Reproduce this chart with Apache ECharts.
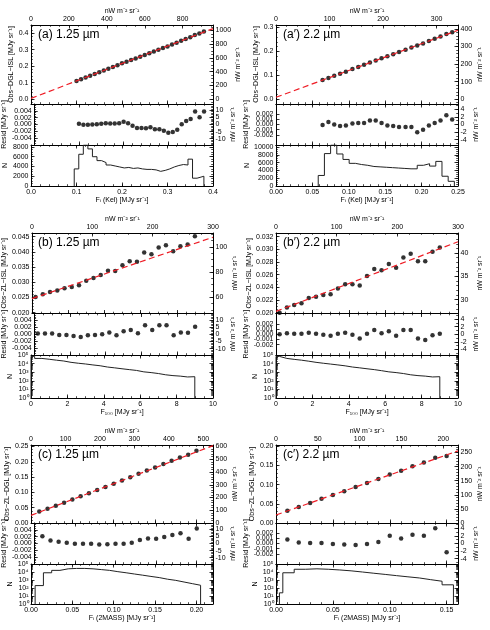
<!DOCTYPE html>
<html>
<head>
<meta charset="utf-8">
<script src="https://cdn.jsdelivr.net/npm/echarts@6/dist/echarts.min.js"></script>
<style>
html, body { margin: 0; background: #fff; }
#chart { width: 490px; height: 630px; }
</style>
</head>
<body>
<div id="chart"></div>
<script>
// ---- (a) 1.25 um, Kelsall ----
const a_x = [0.10,0.11,0.12,0.13,0.14,0.15,0.16,0.17,0.18,0.19,0.20,0.21,0.22,0.23,0.24,0.25,0.26,0.27,0.28,0.29,0.30,0.31,0.32,0.33,0.34,0.35,0.36,0.37,0.38];
const a_y = [0.110,0.121,0.131,0.142,0.152,0.163,0.174,0.184,0.195,0.206,0.217,0.227,0.237,0.247,0.257,0.268,0.279,0.289,0.299,0.310,0.320,0.331,0.342,0.354,0.365,0.376,0.390,0.398,0.411];
const a_res = [0.0002,-0.0001,-0.0001,0.0000,0.0001,0.0002,0.0004,0.0003,0.0003,0.0004,0.0008,0.0004,-0.0004,-0.0010,-0.0010,-0.0011,-0.0008,-0.0014,-0.0014,-0.0018,-0.0024,-0.0022,-0.0015,0.0001,0.0010,0.0016,0.0038,0.0021,0.0038];
const a_fitX = [0, 0.4];
const a_fitY = [0.004, 0.428];
const a_hEdge = [0.095,0.105,0.115,0.125,0.135,0.145,0.155,0.165,0.175,0.185,0.195,0.205,0.215,0.225,0.235,0.245,0.255,0.265,0.275,0.285,0.295,0.305,0.315,0.325,0.335,0.345,0.355,0.365,0.38];
const a_hN = [3500,6500,8400,7600,6000,5200,4800,4300,4100,3900,3700,3800,3600,3700,3500,3400,3400,3300,3000,3200,3500,3900,4200,4400,4300,5500,1600,2000];

// ---- (a') 2.2 um, Kelsall ----
const a2_x = [0.064,0.072,0.080,0.088,0.096,0.105,0.113,0.121,0.129,0.137,0.145,0.153,0.161,0.169,0.178,0.186,0.194,0.202,0.210,0.218,0.226,0.234,0.242];
const a2_y = [0.080,0.089,0.098,0.106,0.115,0.126,0.135,0.144,0.153,0.162,0.171,0.179,0.188,0.197,0.207,0.216,0.224,0.233,0.243,0.253,0.262,0.272,0.280];
const a2_res = [-0.0001,0.0005,0.0000,-0.0003,-0.0002,0.0002,0.0003,0.0003,0.0008,0.0008,0.0003,-0.0002,-0.0003,-0.0005,-0.0005,-0.0005,-0.0015,-0.0010,-0.0002,0.0003,0.0008,0.0018,0.0010];
const a2_fitX = [0, 0.25];
const a2_fitY = [0.008, 0.288];
const a2_hEdge = [0.058,0.0665,0.075,0.0835,0.092,0.1005,0.109,0.1175,0.126,0.1345,0.143,0.1515,0.160,0.1685,0.177,0.1855,0.194,0.2025,0.211,0.2195,0.228,0.2365,0.245];
const a2_hN = [2700,8300,10500,8200,6800,5800,5500,5300,5000,4900,4800,4700,4600,4500,4400,4400,5300,5700,5100,6300,2500,1200];

// ---- (b) 1.25 um, F100 ----
const b_x = [0.2,0.6,1.0,1.4,1.8,2.2,2.6,3.0,3.4,3.8,4.2,4.6,5.0,5.4,5.8,6.2,6.6,7.0,7.4,7.8,8.2,8.6,9.0];
const b_y = [0.0251,0.0260,0.0268,0.0273,0.0280,0.0284,0.0290,0.0305,0.0314,0.0324,0.0338,0.0337,0.0356,0.0369,0.0367,0.0398,0.0392,0.0414,0.0422,0.0402,0.0418,0.0424,0.0451];
const b_res = [0.0002,0.0002,0.0002,-0.0002,-0.0002,-0.0005,-0.0008,-0.0003,-0.0002,0.0000,0.0005,-0.0003,0.0009,0.0012,0.0003,0.0026,0.0012,0.0026,0.0026,-0.0003,0.0005,0.0004,0.0022];
const b_fitX = [0, 10];
const b_fitY = [0.0246, 0.0448];
const b_hEdge = [0,0.2,0.6,1.0,1.4,1.8,2.2,2.6,3.0,3.4,3.8,4.2,4.6,5.0,5.4,5.8,6.2,6.6,7.0,7.4,7.8,8.2,8.6,9.0];
const b_hN = [70000,40000,32000,25000,20000,14000,11000,9000,7000,5600,4000,3200,2500,2000,1600,1100,900,700,500,400,350,280,300];

// ---- (b') 2.2 um, F100 ----
const b2_x = [0.2,0.6,1.0,1.4,1.8,2.2,2.6,3.0,3.4,3.8,4.2,4.6,5.0,5.4,5.8,6.2,6.6,7.0,7.4,7.8,8.2,8.6,9.0];
const b2_y = [0.0200,0.0208,0.0212,0.0215,0.0223,0.0225,0.0228,0.0229,0.0238,0.0245,0.0245,0.0243,0.0258,0.0269,0.0267,0.0277,0.0271,0.0287,0.0293,0.0281,0.0281,0.0296,0.0303];
const b2_res = [0.0000,0.0002,0.0001,0.0001,0.0003,0.0001,-0.0001,-0.0003,0.0001,0.0003,-0.0001,-0.0008,0.0001,0.0008,0.0002,0.0006,-0.0003,0.0008,0.0008,-0.0008,-0.0011,-0.0002,0.0001];
const b2_fitX = [0, 10];
const b2_fitY = [0.0202, 0.0312];
const b2_hEdge = [0,0.2,0.6,1.0,1.4,1.8,2.2,2.6,3.0,3.4,3.8,4.2,4.6,5.0,5.4,5.8,6.2,6.6,7.0,7.4,7.8,8.2,8.6,9.0];
const b2_hN = [68000,40000,31000,25000,19000,14000,11000,8800,7000,5500,4000,3200,2500,2000,1500,1100,900,700,500,400,350,280,300];

// ---- (c) 1.25 um, 2MASS ----
const c_x = [0.01,0.02,0.03,0.04,0.05,0.06,0.07,0.08,0.09,0.10,0.11,0.12,0.13,0.14,0.15,0.16,0.17,0.18,0.19,0.20];
const c_y = [0.0375,0.0466,0.0566,0.0666,0.0767,0.0871,0.0974,0.1076,0.1180,0.1285,0.1389,0.1495,0.1607,0.1715,0.1818,0.1927,0.2036,0.2145,0.2232,0.2366];
const c_res = [0.0021,0.0009,0.0005,0.0002,-0.0001,-0.0001,-0.0001,-0.0003,-0.0002,-0.0001,-0.0001,0.0002,0.0010,0.0015,0.0014,0.0019,0.0025,0.0030,0.0014,0.0044];
const c_fitX = [0, 0.22];
const c_fitY = [0.025, 0.253];
const c_hEdge = [0.005,0.015,0.025,0.035,0.045,0.055,0.065,0.075,0.085,0.095,0.105,0.115,0.125,0.135,0.145,0.155,0.165,0.175,0.185,0.195,0.205];
const c_hN = [200,8000,16000,25000,28000,28000,25000,20000,16000,11000,8000,5600,4000,2800,2000,1260,900,560,350,220];

// ---- (c') 2.2 um, 2MASS ----
const c2_x = [0.01,0.02,0.03,0.04,0.05,0.06,0.07,0.08,0.09,0.10,0.11,0.12,0.13,0.14,0.15];
const c2_y = [0.032,0.042,0.052,0.063,0.073,0.083,0.094,0.104,0.115,0.1265,0.136,0.148,0.158,0.170,0.175];
const c2_res = [0.0008,0.0002,0.0001,0.0001,-0.0001,-0.0002,-0.0003,-0.0001,0.0003,0.0015,0.0010,0.0017,0.0015,0.0030,-0.0017];
const c2_fitX = [0, 0.16];
const c2_fitY = [0.021, 0.188];
const c2_hEdge = [0.003,0.006,0.016,0.026,0.036,0.046,0.056,0.066,0.076,0.086,0.096,0.106,0.116,0.126,0.136,0.146,0.156];
const c2_hN = [25,8000,22000,25000,22000,18000,14000,10000,7000,5000,3500,2500,1800,1100,700,250];

const FONT = 'Liberation Sans, Arial, sans-serif';
const UNIT = 'nW m⁻² sr⁻¹';
const MJY = '[MJy sr⁻¹]';
const COLX = [31, 276];
const PW = 182;
// per row: top of upper panel, upper/resid border, resid/hist border, bottom
const ROWS = [[25, 104, 145, 186], [233, 313.5, 355, 398], [445, 523, 564, 604]];

function lin(min, max, step) {
  const out = [];
  const k0 = Math.ceil(min / step - 1e-6), k1 = Math.floor(max / step + 1e-6);
  for (let k = k0; k <= k1; k++) out.push(+(k * step).toFixed(8));
  return out;
}
function logMinor(lo, hi) {
  const out = [];
  for (let e = lo; e < hi; e++) for (let d = 2; d <= 9; d++) out.push(d * Math.pow(10, e));
  return out;
}
const SUP = '⁰¹²³⁴⁵⁶⁷⁸⁹';
const fix = d => v => v.toFixed(d);
const pow10 = v => '10' + SUP[Math.round(Math.log10(v))];

const panels = [
  { col: 0, row: 0, label: '(a) 1.25 µm', yName: 'Obs−DGL−ISL ' + MJY, xName: 'Fᵢ (Kel) ' + MJY,
    x: a_x, y: a_y, res: a_res, fitX: a_fitX, fitY: a_fitY, hEdge: a_hEdge, hN: a_hN,
    xr: [0, 0.4, 0.1, 0.02, 1], top: [2400, 200, 50],
    up: [-0.03, 0.45, 0.1, 0.02, 1], upR: [2400, 200, 50],
    rs: [-0.006, 0.006, 0.002, 0.0005, 3], rsR: [2400, 5, 1],
    hist: { log: false, min: 0, max: 8400, step: 2000, minor: 500 } },
  { col: 1, row: 0, label: '(a′) 2.2 µm', yName: 'Obs−DGL−ISL ' + MJY, xName: 'Fᵢ (Kel) ' + MJY,
    x: a2_x, y: a2_y, res: a2_res, fitX: a2_fitX, fitY: a2_fitY, hEdge: a2_hEdge, hN: a2_hN,
    xr: [0, 0.25, 0.05, 0.01, 2], top: [1360, 100, 20],
    up: [-0.02, 0.31, 0.1, 0.02, 1], upR: [1360, 100, 20],
    rs: [-0.004, 0.004, 0.001, 0, 3], rsR: [1360, 2, 1],
    hist: { log: false, min: 0, max: 10500, step: 2000, minor: 500 } },
  { col: 0, row: 1, label: '(b) 1.25 µm', yName: 'Obs−ZL−ISL ' + MJY, xName: 'F₁₀₀ ' + MJY,
    x: b_x, y: b_y, res: b_res, fitX: b_fitX, fitY: b_fitY, hEdge: b_hEdge, hN: b_hN,
    xr: [0, 10, 2, 0.5, 0], top: [30, 100, 20],
    up: [0.0197, 0.0462, 0.005, 0.001, 3], upR: [2400, 20, 5],
    rs: [-0.006, 0.006, 0.002, 0.0005, 3], rsR: [2400, 5, 1],
    hist: { log: true, min: 1, max: 1e5 } },
  { col: 1, row: 1, label: '(b′) 2.2 µm', yName: 'Obs−ZL−ISL ' + MJY, xName: 'F₁₀₀ ' + MJY,
    x: b2_x, y: b2_y, res: b2_res, fitX: b2_fitX, fitY: b2_fitY, hEdge: b2_hEdge, hN: b2_hN,
    xr: [0, 10, 2, 0.5, 0], top: [30, 100, 20],
    up: [0.01987, 0.03258, 0.002, 0.0005, 3], upR: [1360, 5, 1],
    rs: [-0.004, 0.004, 0.001, 0, 3], rsR: [1360, 2, 1],
    hist: { log: true, min: 1, max: 1e5 } },
  { col: 0, row: 2, label: '(c) 1.25 µm', yName: 'Obs−ZL−DGL ' + MJY, xName: 'Fᵢ (2MASS) ' + MJY,
    x: c_x, y: c_y, res: c_res, fitX: c_fitX, fitY: c_fitY, hEdge: c_hEdge, hN: c_hN,
    xr: [0, 0.22, 0.05, 0.01, 2], top: [2400, 100, 20],
    up: [0, 0.255, 0.05, 0.01, 2], upR: [2400, 100, 20],
    rs: [-0.006, 0.006, 0.002, 0.0005, 3], rsR: [2400, 5, 1],
    hist: { log: true, min: 1, max: 1e5 } },
  { col: 1, row: 2, label: '(c′) 2.2 µm', yName: 'Obs−ZL−DGL ' + MJY, xName: 'Fᵢ (2MASS) ' + MJY,
    x: c2_x, y: c2_y, res: c2_res, fitX: c2_fitX, fitY: c2_fitY, hEdge: c2_hEdge, hN: c2_hN,
    xr: [0, 0.16, 0.05, 0.01, 2], top: [1360, 50, 10],
    up: [0, 0.2034, 0.05, 0.01, 2], upR: [1360, 50, 10],
    rs: [-0.004, 0.004, 0.001, 0, 3], rsR: [1360, 2, 1],
    hist: { log: true, min: 1, max: 1e5 } }
];

const grids = [], xAxes = [], yAxes = [], series = [], graphics = [];
const txt = { color: '#000', fontFamily: FONT, fontSize: 7 };

function addAxis(list, gi, pos, o) {
  const common = { gridIndex: gi, position: pos, type: o.log ? 'log' : 'value', min: o.min, max: o.max,
    splitLine: { show: false }, silent: true };
  const idx = list.length;
  list.push(Object.assign({}, common, {
    axisLine: { show: true, onZero: false, lineStyle: { color: '#000', width: 1 } },
    axisTick: { show: true, inside: true, length: 3.5, customValues: o.major, lineStyle: { color: '#000', width: 0.8 } },
    axisLabel: { show: !!o.fmt, customValues: o.labels || o.major, formatter: o.fmt, margin: 2.5, ...txt },
    name: o.name || '', nameLocation: 'middle', nameGap: o.gap || 0, nameRotate: o.rot || 0,
    nameTextStyle: { ...txt }
  }));
  if (o.minor && o.minor.length) {
    list.push(Object.assign({}, common, {
      axisLine: { show: false, onZero: false },
      axisTick: { show: true, inside: true, length: 1.8, customValues: o.minor, lineStyle: { color: '#000', width: 0.7 } },
      axisLabel: { show: false }
    }));
  }
  return idx;
}

// simple linear axis description, optionally scaled by a unit factor
function linAxis(min, max, step, minor, f, fmt, inner) {
  const lo = min * f, hi = max * f;
  const major = lin(lo, hi, step);
  return { min: lo, max: hi, major, minor: minor ? lin(lo, hi, minor) : null, fmt,
    labels: inner ? major.filter(v => v > lo + step * 0.3 && v < hi - step * 0.3) : major };
}

function stepPoints(edges, counts, floor) {
  const pts = [[edges[0], floor]];
  counts.forEach((n, i) => pts.push([edges[i], n]));
  const end = edges[edges.length - 1];
  pts.push([end, counts[counts.length - 1]], [end, floor]);
  return pts;
}

panels.forEach((p, pi) => {
  const rows = ROWS[p.row];
  const left = COLX[p.col];
  const xr = p.xr;
  for (let s = 0; s < 3; s++) {
    const gi = grids.length;
    grids.push({ left, top: rows[s], width: PW, height: rows[s + 1] - rows[s] });
    const xBase = linAxis(xr[0], xr[1], xr[2], xr[3], 1, null);
    if (s === 2) Object.assign(xBase, { fmt: fix(xr[4]), name: p.xName, gap: 10 });
    const xi = addAxis(xAxes, gi, 'bottom', xBase);
    if (s === 0) {
      const t = linAxis(xr[0], xr[1], p.top[1], p.top[2], p.top[0], fix(0));
      addAxis(xAxes, gi, 'top', Object.assign(t, { name: UNIT, gap: 7 }));
    } else {
      addAxis(xAxes, gi, 'top', linAxis(xr[0], xr[1], xr[2], xr[3], 1, null));
    }
    let yi;
    if (s === 0) {
      const u = p.up;
      const l = linAxis(u[0], u[1], u[2], u[3], 1, fix(u[4]));
      yi = addAxis(yAxes, gi, 'left', Object.assign(l, { name: p.yName, gap: 16, rot: 90 }));
      const r = linAxis(u[0], u[1], p.upR[1], p.upR[2], p.upR[0], fix(0));
      addAxis(yAxes, gi, 'right', Object.assign(r, { name: UNIT, gap: 19, rot: 90 }));
    } else if (s === 1) {
      const u = p.rs;
      const l = linAxis(u[0], u[1], u[2], u[3], 1, fix(u[4]), true);
      yi = addAxis(yAxes, gi, 'left', Object.assign(l, { name: 'Resid ' + MJY, gap: 26, rot: 90 }));
      const r = linAxis(u[0], u[1], p.rsR[1], p.rsR[2], p.rsR[0], fix(0), true);
      addAxis(yAxes, gi, 'right', Object.assign(r, { name: UNIT, gap: 15, rot: 90 }));
    } else {
      const h = p.hist;
      let l, m;
      if (h.log) {
        l = { log: true, min: h.min, max: h.max, fmt: pow10, minor: logMinor(0, 5) };
        m = { log: true, min: h.min, max: h.max, minor: logMinor(0, 5) };
      } else {
        l = linAxis(h.min, h.max, h.step, h.minor, 1, fix(0));
        m = linAxis(h.min, h.max, h.step, h.minor, 1, null);
      }
      yi = addAxis(yAxes, gi, 'left', Object.assign(l, { name: 'N', gap: 16, rot: 90 }));
      addAxis(yAxes, gi, 'right', m);
    }

    if (s === 0) {
      series.push({ type: 'scatter', xAxisIndex: xi, yAxisIndex: yi, symbolSize: 4.5,
        itemStyle: { color: '#000' }, data: p.x.map((v, i) => [v, p.y[i]]), silent: true, z: 2 });
      series.push({ type: 'line', xAxisIndex: xi, yAxisIndex: yi, symbol: 'none', silent: true, z: 3,
        lineStyle: { color: '#ee1c25', width: 1.2, type: [6, 3.5] }, data: p.fitX.map((v, i) => [v, p.fitY[i]]) });
    } else if (s === 1) {
      series.push({ type: 'scatter', xAxisIndex: xi, yAxisIndex: yi, symbolSize: 4.5,
        itemStyle: { color: '#000' }, data: p.x.map((v, i) => [v, p.res[i]]), silent: true });
    } else {
      series.push({ type: 'line', xAxisIndex: xi, yAxisIndex: yi, symbol: 'none', step: 'end', silent: true,
        clip: true, lineStyle: { color: '#222', width: 1 },
        data: stepPoints(p.hEdge, p.hN, p.hist.log ? 0.01 : 0) });
    }
  }
  graphics.push({ type: 'text', left: left + 7, top: rows[0] + 4,
    style: { text: p.label, fill: '#000', font: '12px ' + FONT } });
});

const chart = echarts.init(document.getElementById('chart'));
chart.setOption({
  animation: false,
  backgroundColor: '#fff',
  grid: grids,
  xAxis: xAxes,
  yAxis: yAxes,
  series,
  graphic: graphics
});
</script>
</body>
</html>
